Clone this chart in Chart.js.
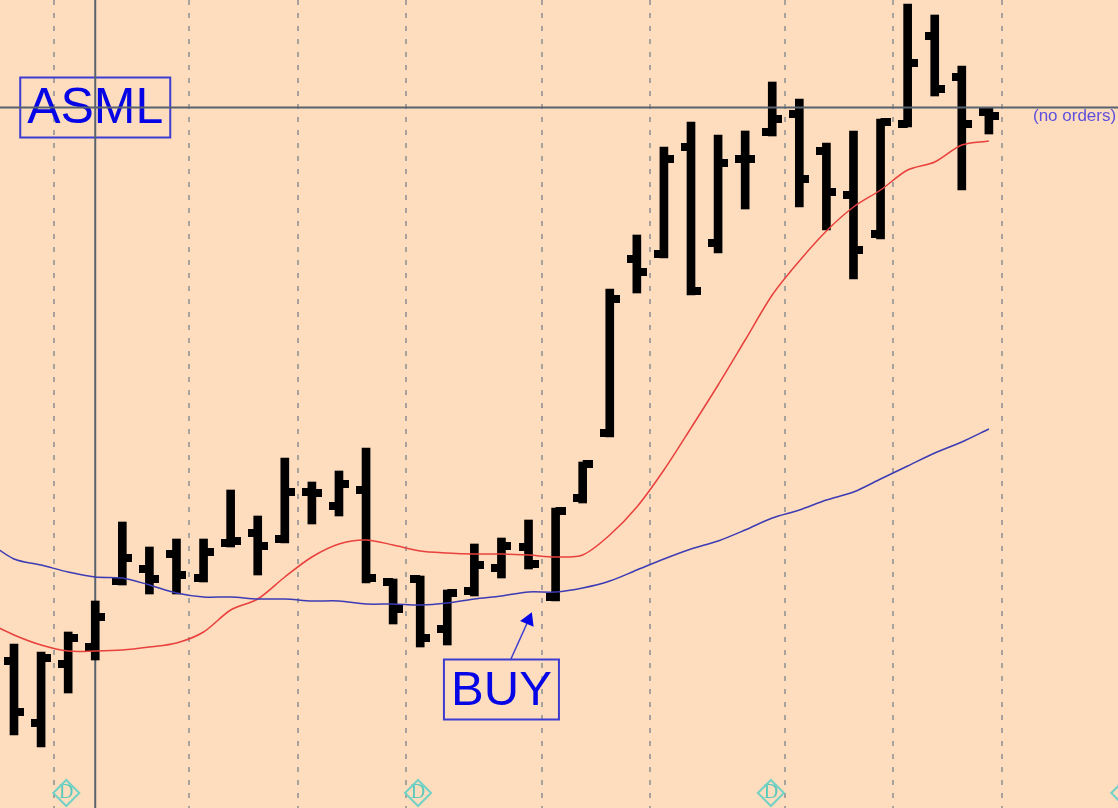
<!DOCTYPE html>
<html>
<head>
<meta charset="utf-8">
<title>ASML</title>
<script src="https://cdn.jsdelivr.net/npm/chart.js@4"></script>
<style>
    html, body { margin: 0; padding: 0; overflow: hidden; background: #fedcbe; }
    canvas { display: block; }
</style>
</head>
<body>
<canvas id="priceChart" width="1118" height="808"></canvas>
<script>
// Price bars (no axis in the original, so the unit is arbitrary)
const highs = [16.4, 15.6, 17.6, 20.7, 28.6, 26.1, 26.9, 26.9, 31.8, 29.2, 35.0, 32.6, 33.7, 36.0, 22.9, 23.2, 21.8, 26.4, 27.0, 28.8, 30.0, 34.6, 51.9, 57.3, 66.1, 68.6, 67.3, 67.7, 72.6, 70.9, 66.5, 67.7, 68.9, 80.4, 79.3, 74.2, 70.0];
const lows = [7.3, 6.1, 11.5, 14.8, 22.3, 21.4, 21.4, 22.6, 26.1, 23.3, 26.5, 28.4, 29.2, 22.5, 18.4, 16.1, 16.3, 21.2, 23.0, 23.9, 20.7, 30.5, 37.1, 51.5, 55.0, 51.3, 55.5, 59.9, 67.2, 60.1, 57.8, 52.9, 56.9, 68.1, 71.2, 61.8, 67.4];
const opens = [14.7, 8.5, 14.4, 16.1, 22.7, 23.9, 25.4, 23.0, 26.5, 27.5, 26.9, 31.6, 30.2, 31.8, 22.6, 22.9, 17.9, 21.7, 24.0, 26.1, 21.1, 31.0, 37.5, 54.9, 55.4, 66.1, 56.5, 64.9, 67.6, 69.4, 65.7, 61.3, 57.4, 68.4, 77.2, 73.1, 69.6];
const closes = [9.6, 15.0, 17.0, 19.1, 25.0, 22.9, 23.3, 25.6, 26.7, 26.2, 31.6, 31.5, 32.4, 23.0, 19.9, 17.0, 21.5, 24.3, 26.2, 24.4, 29.7, 34.4, 50.9, 53.6, 64.9, 51.7, 64.5, 64.9, 68.9, 62.9, 61.6, 55.8, 68.6, 74.5, 71.9, 68.4, 69.2];

// Moving averages, the first value belongs to the bar just off the left edge
const redAverage = [18.6, 17.3, 16.3, 15.7, 15.7, 15.8, 16.1, 16.5, 17.6, 19.8, 20.9, 23.1, 25.1, 26.4, 26.8, 26.3, 25.7, 25.5, 25.4, 25.4, 25.3, 25.1, 25.3, 27.3, 30.1, 33.8, 38.0, 42.3, 46.8, 51.3, 54.7, 57.7, 60.1, 61.8, 63.8, 64.6, 66.3, 66.7];
const blueAverage = [26.7, 24.9, 24.3, 23.6, 23.1, 23.0, 22.3, 21.5, 21.1, 21.1, 20.9, 20.9, 20.7, 20.7, 20.4, 20.4, 20.3, 20.5, 20.9, 21.2, 21.6, 21.6, 22.0, 22.7, 23.8, 24.9, 25.9, 26.7, 27.8, 29.0, 29.8, 30.8, 31.6, 32.9, 34.2, 35.5, 36.6, 37.9];

// Week separators, daily markers and the cursor
const weekBreaks = [1.46, 6.48, 10.48, 14.48, 19.49, 23.49, 28.48, 32.47, 36.48];
const dayMarks = [1.93, 14.92, 27.95, 41];
const cursorBar = 3;
const cursorPrice = 70.05;
const arrowBars = [18.35, 19.0];
const arrowPrices = [14.9, 18.8];
const tagTexts = ['ASML', 'BUY'];
const tagBars = [cursorBar, 18];
const tagPrices = [cursorPrice, 11.85];
const orderText = '(no orders)';

const xMin = -0.517;
const xMax = 40.768;
const yMin = 0;
const yMax = 80.8;

// open/close tick, only one half of the image is painted so it sticks out on one side
function makeTick(side) {
    const tick = document.createElement('canvas');
    tick.width = 20;
    tick.height = 8;
    const c = tick.getContext('2d');
    c.fillStyle = '#000';
    c.fillRect(side === 'left' ? 0 : 10, 0, 10, 8);
    return tick;
}

const labelsPlugin = {
    id: 'labels',
    beforeDatasetsDraw(chart) {
        const { ctx, scales: { x, y } } = chart;
        ctx.save();
        tagTexts.forEach((text, i) => {
            const px = x.getPixelForValue(tagBars[i]);
            const py = y.getPixelForValue(tagPrices[i]);
            const w = text === 'ASML' ? 150 : 115;
            ctx.strokeStyle = '#3c3cd2';
            ctx.lineWidth = 2;
            ctx.strokeRect(px - w / 2, py - 30, w, 60);
            ctx.fillStyle = '#0505e6';
            ctx.font = (text === 'ASML' ? 50 : 49) + 'px "Liberation Sans"';
            ctx.textAlign = 'center';
            ctx.textBaseline = 'alphabetic';
            ctx.fillText(text, px, py + 15);
        });
        // order status right of the last bar
        ctx.fillStyle = '#5f50dc';
        ctx.font = '17px "Liberation Sans"';
        ctx.textAlign = 'left';
        ctx.textBaseline = 'middle';
        ctx.fillText(orderText, 1033, y.getPixelForValue(cursorPrice) + 9);
        // the D inside the diamonds
        ctx.fillStyle = '#5cc9bd';
        ctx.font = '20px "Liberation Serif"';
        ctx.textAlign = 'center';
        dayMarks.forEach(d => {
            ctx.fillText('D', x.getPixelForValue(d), y.getPixelForValue(1.5));
        });
        ctx.restore();
    }
};

document.addEventListener('DOMContentLoaded', function() {
    const ctx = document.getElementById('priceChart').getContext('2d');
    new Chart(ctx, {
        type: 'bar',
        plugins: [labelsPlugin],
        data: {
            datasets: [
                {
                    // vertical cursor goes behind the bars, the horizontal one over them
                    type: 'line',
                    data: [{ x: cursorBar, y: yMin }, { x: cursorBar, y: yMax }],
                    borderColor: '#56636f',
                    borderWidth: 2,
                    pointRadius: 0,
                    order: 6
                },
                {
                    type: 'line',
                    data: [{ x: xMin, y: cursorPrice }, { x: xMax, y: cursorPrice }],
                    borderColor: '#56636f',
                    borderWidth: 2,
                    pointRadius: 0,
                    order: 3.5
                },
                {
                    // high - low stems
                    type: 'bar',
                    data: highs.map((h, i) => ({ x: i, y: [lows[i], h] })),
                    backgroundColor: '#000',
                    barThickness: 8,
                    order: 5
                },
                {
                    type: 'scatter',
                    data: opens.map((v, i) => ({ x: i, y: v })),
                    pointStyle: makeTick('left'),
                    order: 4
                },
                {
                    type: 'scatter',
                    data: closes.map((v, i) => ({ x: i, y: v })),
                    pointStyle: makeTick('right'),
                    order: 4
                },
                {
                    type: 'line',
                    data: redAverage.map((v, i) => ({ x: i - 1, y: v })),
                    borderColor: '#e8403c',
                    borderWidth: 1.5,
                    pointRadius: 0,
                    tension: 0.3,
                    order: 3
                },
                {
                    type: 'line',
                    data: blueAverage.map((v, i) => ({ x: i - 1, y: v })),
                    borderColor: '#3b3bb4',
                    borderWidth: 1.5,
                    pointRadius: 0,
                    tension: 0.3,
                    order: 2
                },
                {
                    // BUY arrow, triangle only on the last point
                    type: 'line',
                    data: arrowBars.map((b, i) => ({ x: b, y: arrowPrices[i] })),
                    borderColor: '#3c3cd2',
                    borderWidth: 1.5,
                    pointStyle: 'triangle',
                    pointRadius: [0, 7],
                    pointRotation: 23,
                    pointBackgroundColor: '#0505e6',
                    pointBorderColor: '#0505e6',
                    order: 1
                },
                {
                    type: 'scatter',
                    data: dayMarks.map(d => ({ x: d, y: 1.5 })),
                    pointStyle: 'rectRot',
                    pointRadius: 13,
                    pointBackgroundColor: 'transparent',
                    pointBorderColor: '#72d2c6',
                    pointBorderWidth: 2,
                    order: 1
                }
            ]
        },
        options: {
            responsive: false,
            animation: false,
            layout: { padding: 0, autoPadding: false },
            plugins: {
                legend: { display: false },
                tooltip: { enabled: false }
            },
            scales: {
                x: {
                    type: 'linear',
                    offset: false,
                    min: xMin,
                    max: xMax,
                    afterBuildTicks: axis => {
                        axis.ticks = weekBreaks.map(v => ({ value: v }));
                    },
                    afterFit: axis => {
                        axis.height = 0;
                    },
                    ticks: { display: false },
                    border: { display: false, dash: [5, 8] },
                    grid: {
                        offset: false,
                        drawTicks: false,
                        color: '#a8a29c',
                        lineWidth: 2
                    }
                },
                y: {
                    type: 'linear',
                    min: yMin,
                    max: yMax,
                    afterFit: axis => {
                        axis.width = 0;
                    },
                    ticks: { display: false },
                    border: { display: false },
                    grid: { display: false }
                }
            }
        }
    });
});
</script>
</body>
</html>
